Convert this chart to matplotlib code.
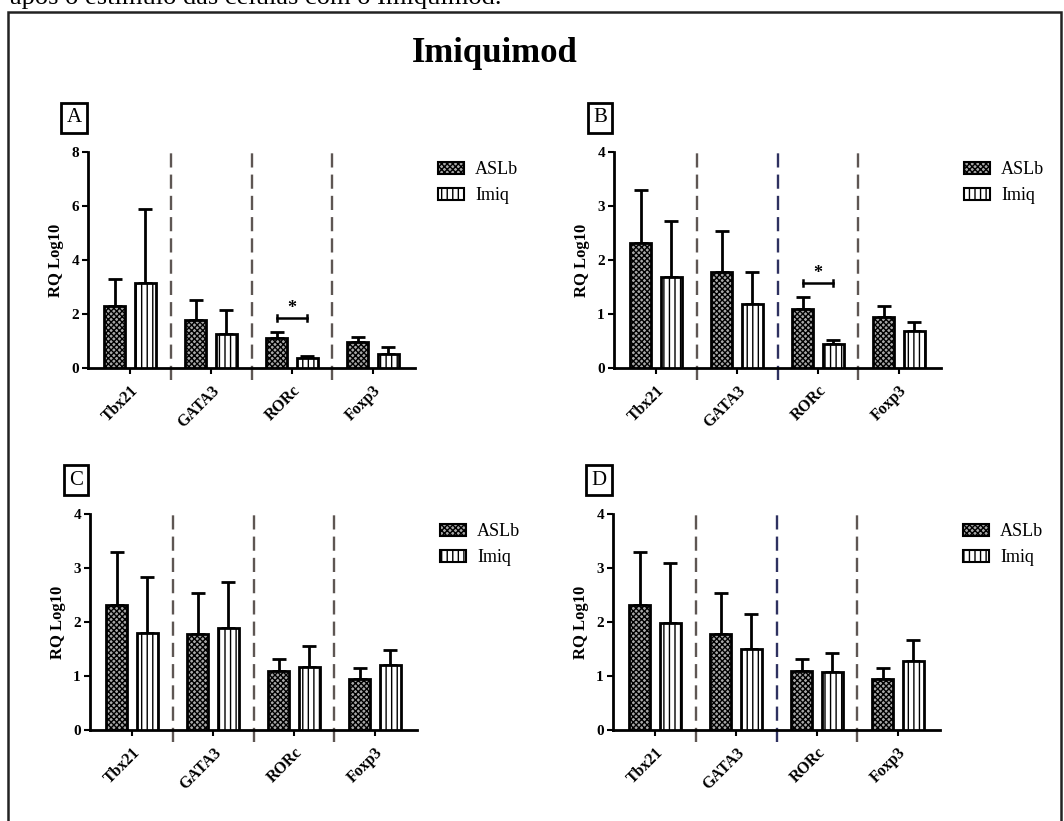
import numpy as np
import matplotlib.pyplot as plt
from matplotlib.patches import Rectangle, Patch

plt.rcParams["font.family"] = ["Liberation Serif", "DejaVu Serif"]
plt.rcParams["hatch.linewidth"] = 1.0

genes = ["Tbx21", "GATA3", "RORc", "Foxp3"]
groups = ["ASLb", "Imiq"]

# media e desvio (so a barra de cima)
aslb = [2.31, 1.78, 1.10, 0.95]
aslb_sd = [0.99, 0.75, 0.22, 0.20]

a_imiq = [3.16, 1.25, 0.36, 0.52]
a_imiq_sd = [2.73, 0.90, 0.10, 0.26]
b_imiq = [1.69, 1.18, 0.45, 0.69]
b_imiq_sd = [1.04, 0.60, 0.07, 0.17]
c_imiq = [1.79, 1.88, 1.16, 1.20]
c_imiq_sd = [1.04, 0.87, 0.40, 0.28]
d_imiq = [1.99, 1.50, 1.08, 1.28]
d_imiq_sd = [1.11, 0.65, 0.35, 0.39]

W, H = 1064, 821
GRAY = "#5e5653"
NAVY = "#2e3160"
HATCH_A = "xxxxxx"
HATCH_B = "|||"


def painel(fig, px, py, letra, imiq, imiq_sd, ymax, yticks, sep_cores, sig=None):
    ax = fig.add_axes([px / W, 1 - (py + 216) / H, 327 / W, 216 / H])
    x = np.arange(len(genes))
    w, off = 0.26, 0.19
    ax.bar(x - off, aslb, w, color="#a8a8a8", edgecolor="black", linewidth=2,
           hatch=HATCH_A, zorder=3)
    ax.bar(x + off, imiq, w, color="white", edgecolor="black", linewidth=2,
           hatch=HATCH_B, zorder=3)
    zeros = np.zeros(len(genes))
    ax.errorbar(x - off, aslb, yerr=[zeros, aslb_sd], fmt="none", ecolor="black",
                elinewidth=2, capsize=5, capthick=2, zorder=2)
    ax.errorbar(x + off, imiq, yerr=[zeros, imiq_sd], fmt="none", ecolor="black",
                elinewidth=2, capsize=5, capthick=2, zorder=2)
    for xs, c in zip([0.5, 1.5, 2.5], sep_cores):
        ax.axvline(xs, ymin=-0.056, ymax=1.025, color=c, linewidth=1.7,
                   dashes=(6, 3), clip_on=False, zorder=1)
    if sig is not None:
        i, yb, ys = sig
        ax.plot([i - off, i + off], [yb, yb], color="black", lw=1.8)
        h = ymax * 0.014
        for xe in (i - off, i + off):
            ax.plot([xe, xe], [yb - h, yb + h], color="black", lw=1.8)
        ax.text(i, ys, "*", ha="center", va="center", fontsize=13, fontweight="bold")

    ax.set_xlim(-0.52, 3.52)
    ax.set_ylim(0, ymax)
    ax.set_yticks(yticks)
    ax.set_xticks(x)
    ax.set_xticklabels(genes, rotation=45, ha="right", rotation_mode="anchor",
                       fontsize=11.5, fontweight="bold")
    for t in ax.get_yticklabels():
        t.set_fontweight("bold")
        t.set_fontsize(11)
    ax.tick_params(axis="both", width=1.5, length=4.5, direction="out", pad=2)
    ax.tick_params(axis="x", pad=6)
    for s in ["top", "right"]:
        ax.spines[s].set_visible(False)
    for s in ["left", "bottom"]:
        ax.spines[s].set_linewidth(2)
    ax.set_ylabel("RQ Log10", fontsize=12, fontweight="bold", labelpad=5)

    fig.text((px - 14) / W, 1 - (py - 34) / H, letra, fontsize=15, ha="center",
             va="center",
             bbox=dict(boxstyle="square,pad=0.25", fc="white", ec="black", lw=2))

    handles = [Patch(facecolor="#a8a8a8", edgecolor="black", hatch=HATCH_A, lw=1.5),
               Patch(facecolor="white", edgecolor="black", hatch=HATCH_B, lw=1.5)]
    fig.legend(handles, groups, loc="upper left",
               bbox_to_anchor=((px + 343) / W, 1 - (py + 2) / H),
               frameon=False, fontsize=13, handlelength=1.45, handleheight=0.7,
               handletextpad=0.6, labelspacing=0.5, borderaxespad=0)
    return ax


def desenhar(saida):
    fig = plt.figure(figsize=(W / 100, H / 100), dpi=100)
    fig.patch.set_facecolor("white")

    # borda da figura e texto cortado da pagina
    fig.patches.append(Rectangle((8 / W, -0.05), (1061 - 8) / W, 1.05 - 12 / H,
                                 transform=fig.transFigure, fill=False,
                                 ec="#222222", lw=1.8))
    fig.text(10 / W, 1 - 4 / H, "após o estímulo das células com o Imiquimod.",
             fontsize=19, va="baseline", ha="left")
    fig.text(495 / W, 1 - 53 / H, "Imiquimod", fontsize=25, fontweight="bold",
             ha="center", va="center")

    painel(fig, 88, 152, "A", a_imiq, a_imiq_sd, 8, [0, 2, 4, 6, 8],
           [GRAY, GRAY, GRAY], sig=(2, 1.85, 2.2))
    painel(fig, 614, 152, "B", b_imiq, b_imiq_sd, 4, [0, 1, 2, 3, 4],
           [GRAY, NAVY, GRAY], sig=(2, 1.57, 1.75))
    painel(fig, 90, 514, "C", c_imiq, c_imiq_sd, 4, [0, 1, 2, 3, 4],
           [GRAY, GRAY, GRAY])
    painel(fig, 613, 514, "D", d_imiq, d_imiq_sd, 4, [0, 1, 2, 3, 4],
           [GRAY, NAVY, GRAY])

    fig.savefig(saida, dpi=100)
    plt.close(fig)


if __name__ == "__main__":
    desenhar("out.png")
